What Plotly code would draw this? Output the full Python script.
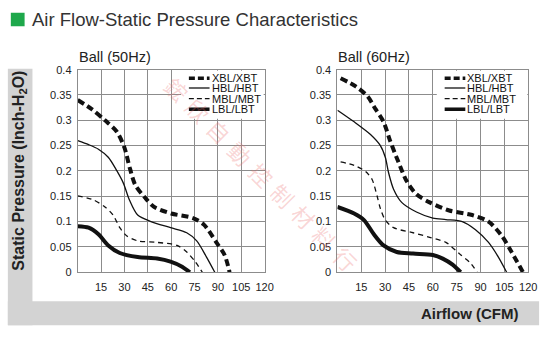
import plotly.graph_objects as go

W, H = 554, 340

series_names = ["XBL/XBT", "HBL/HBT", "MBL/MBT", "LBL/LBT"]

# Ball (50Hz)
x50_xbl = [0, 9, 17.5, 25, 30, 33.5, 37, 43, 49, 60, 74, 81, 89, 94.3, 97.5]
y50_xbl = [0.34, 0.322, 0.30, 0.278, 0.246, 0.205, 0.172, 0.148, 0.129, 0.116, 0.107, 0.094, 0.059, 0.034, 0]
x50_hbl = [0, 7, 13.3, 19.6, 24.8, 29.3, 33.3, 38.5, 47, 59.6, 70, 76.4, 82.7, 88]
y50_hbl = [0.26, 0.252, 0.243, 0.227, 0.202, 0.176, 0.142, 0.113, 0.100, 0.088, 0.078, 0.062, 0.03, 0]
x50_mbl = [0, 10, 17.5, 22.7, 27, 31.4, 38.5, 51, 63.8, 70, 75.4, 80]
y50_mbl = [0.151, 0.143, 0.129, 0.113, 0.088, 0.072, 0.062, 0.059, 0.053, 0.04, 0.021, 0]
x50_lbl = [0, 7, 13.3, 19.6, 27, 38.5, 51, 59.6, 67, 72]
y50_lbl = [0.091, 0.088, 0.075, 0.053, 0.038, 0.030, 0.027, 0.021, 0.011, 0]

# Ball (60Hz)
x60_xbl = [2, 11.5, 18.8, 24, 29, 33.2, 38.3, 43.5, 49.7, 58, 70.3, 84.7, 95, 103.3, 109.5, 116.7]
y60_xbl = [0.383, 0.367, 0.348, 0.322, 0.297, 0.259, 0.218, 0.18, 0.154, 0.138, 0.122, 0.113, 0.100, 0.072, 0.04, 0]
x60_hbl = [0, 10.5, 20.8, 27, 30.1, 32.2, 35.3, 40.4, 49.7, 60, 68.2, 78.5, 86.8, 95, 101.2, 106.4]
y60_hbl = [0.32, 0.297, 0.272, 0.25, 0.227, 0.196, 0.164, 0.138, 0.119, 0.107, 0.104, 0.100, 0.084, 0.059, 0.030, 0]
x60_mbl = [2, 10.5, 17.7, 21.8, 24.9, 27, 30.1, 35.3, 47.6, 58, 68.2, 76.5, 83.7, 87.8]
y60_mbl = [0.218, 0.211, 0.199, 0.183, 0.151, 0.126, 0.103, 0.088, 0.078, 0.069, 0.059, 0.037, 0.018, 0]
x60_lbl = [0, 10.5, 16.7, 22.9, 29, 37.3, 47.6, 60, 66.2, 72.4, 77.5]
y60_lbl = [0.129, 0.116, 0.103, 0.075, 0.053, 0.04, 0.037, 0.034, 0.027, 0.015, 0]

x_ticks = [15, 30, 45, 60, 75, 90, 105, 120]
y_ticks = [0, 0.05, 0.1, 0.15, 0.2, 0.25, 0.3, 0.35, 0.4]
y_tick_labels = ["0", "0.05", "0.1", "0.15", "0.2", "0.25", "0.3", "0.35", "0.4"]

title_text = "Air Flow-Static Pressure Characteristics"
sub_titles = ["Ball (50Hz)", "Ball (60Hz)"]
y_title = "Static Pressure (Inch-H<sub>2</sub>O)"
x_title = "Airflow (CFM)"
watermark_chars = ["鋐", "欣", "自", "動", "控", "制", "材", "料", "行"]

styles = [
    dict(width=4, dash="7px,4px"),
    dict(width=1.3, dash="solid"),
    dict(width=1.3, dash="5px,4px"),
    dict(width=4, dash="solid"),
]

def px(x):
    return x / W

def py(y):
    return 1 - y / H

FONT = "Liberation Sans, Arial, sans-serif"
GRID = "#8c8c8c"
INK = "#111111"

fig = go.Figure()

data50 = [(x50_xbl, y50_xbl), (x50_hbl, y50_hbl), (x50_mbl, y50_mbl), (x50_lbl, y50_lbl)]
data60 = [(x60_xbl, y60_xbl), (x60_hbl, y60_hbl), (x60_mbl, y60_mbl), (x60_lbl, y60_lbl)]

for (xs, ys), name, st in zip(data50, series_names, styles):
    fig.add_trace(go.Scatter(x=xs, y=ys, mode="lines", name=name, showlegend=False,
                             line=dict(color=INK, width=st["width"], dash=st["dash"],
                                       shape="spline", smoothing=0.8),
                             xaxis="x", yaxis="y"))
for (xs, ys), name, st in zip(data60, series_names, styles):
    fig.add_trace(go.Scatter(x=xs, y=ys, mode="lines", name=name, showlegend=False,
                             line=dict(color=INK, width=st["width"], dash=st["dash"],
                                       shape="spline", smoothing=0.8),
                             xaxis="x2", yaxis="y2"))

plots = [(79, 269), (343, 537)]
top, bot = 66, 276

axis_common = dict(showline=True, mirror=True, linecolor=GRID, linewidth=1,
                   showgrid=True, gridcolor=GRID, gridwidth=1, zeroline=False,
                   ticks="", tickfont=dict(size=11, color="#222", family=FONT),
                   fixedrange=True)

fig.update_layout(
    xaxis=dict(domain=[px(plots[0][0]), px(plots[0][1])], range=[0, 120], tickvals=x_ticks,
               anchor="y", ticklabelstandoff=5, **axis_common),
    yaxis=dict(domain=[py(bot), py(top)], range=[0, 0.4], tickvals=y_ticks, ticktext=y_tick_labels,
               anchor="x", ticklabelstandoff=3, **axis_common),
    xaxis2=dict(domain=[px(plots[1][0]), px(plots[1][1])], range=[0, 120], tickvals=x_ticks,
                anchor="y2", ticklabelstandoff=5, **axis_common),
    yaxis2=dict(domain=[py(bot), py(top)], range=[0, 0.4], tickvals=y_ticks, ticktext=y_tick_labels,
                anchor="x2", ticklabelstandoff=3, **axis_common),
)

shapes = []
annotations = []

# gray L-shaped frame
gray = "#d3d3d3"
shapes.append(dict(type="rect", xref="paper", yref="paper", x0=px(8), x1=px(33), y0=py(331), y1=py(65),
                   fillcolor=gray, line=dict(width=0), layer="below"))
shapes.append(dict(type="rect", xref="paper", yref="paper", x0=px(8), x1=px(548), y0=py(331), y1=py(306),
                   fillcolor=gray, line=dict(width=0), layer="below"))

# green square + title
shapes.append(dict(type="rect", xref="paper", yref="paper", x0=px(11), x1=px(25), y0=py(21), y1=py(7),
                   fillcolor="#1ea84b", line=dict(width=0), layer="above"))
annotations.append(dict(text=title_text, xref="paper", yref="paper", x=px(30), y=py(14),
                        xanchor="left", yanchor="middle", showarrow=False,
                        font=dict(size=18.5, color="#333", family=FONT)))

for (l, r), st in zip(plots, sub_titles):
    annotations.append(dict(text=st, xref="paper", yref="paper", x=px(l - 1), y=py(53),
                            xanchor="left", yanchor="middle", showarrow=False,
                            font=dict(size=14.5, color="#222", family=FONT)))

annotations.append(dict(text=y_title, xref="paper", yref="paper", x=px(20), y=py(171),
                        xanchor="center", yanchor="middle", textangle=-90, showarrow=False,
                        font=dict(size=16, color="#222", family=FONT, weight="bold")))
annotations.append(dict(text=x_title, xref="paper", yref="paper", x=px(529), y=py(319),
                        xanchor="right", yanchor="middle", showarrow=False,
                        font=dict(size=15, color="#222", family=FONT, weight="bold")))

# watermark (faint)
n = len(watermark_chars)
for i, ch in enumerate(watermark_chars):
    cx = 180 + i * (352 - 180) / (n - 1)
    cy = 86 + i * (262 - 86) / (n - 1)
    annotations.append(dict(text=ch, xref="paper", yref="paper", x=px(cx), y=py(cy),
                            xanchor="center", yanchor="middle", textangle=45, showarrow=False,
                            font=dict(size=22, color="rgba(235,110,110,0.28)",
                                      family="Noto Sans CJK TC, sans-serif")))

# legends
row_y = [75, 85, 96, 107]
for (l, r), sym_l in zip(plots, [192, 452]):
    box_l = sym_l - 8
    shapes.append(dict(type="rect", xref="paper", yref="paper", x0=px(box_l), x1=px(r - 1),
                       y0=py(117), y1=py(top + 1), fillcolor="white", line=dict(width=0), layer="above"))
    for name, st, yy in zip(series_names, styles, row_y):
        shapes.append(dict(type="line", xref="paper", yref="paper", x0=px(sym_l), x1=px(sym_l + 21),
                           y0=py(yy), y1=py(yy), layer="above",
                           line=dict(color=INK, width=st["width"] if st["width"] < 3 else 3.5,
                                     dash=st["dash"] if st["dash"] == "solid" else ("6px,3px" if st["width"] > 3 else "5px,3px"))))
        annotations.append(dict(text=name, xref="paper", yref="paper", x=px(sym_l + 22), y=py(yy),
                                xanchor="left", yanchor="middle", showarrow=False, borderpad=0,
                                font=dict(size=11, color="#111", family=FONT)))

fig.update_layout(width=W, height=H, margin=dict(l=0, r=0, t=0, b=0),
                  paper_bgcolor="white", plot_bgcolor="white",
                  shapes=shapes, annotations=annotations, showlegend=False)

fig.write_html("out.html", config={"displayModeBar": False})
